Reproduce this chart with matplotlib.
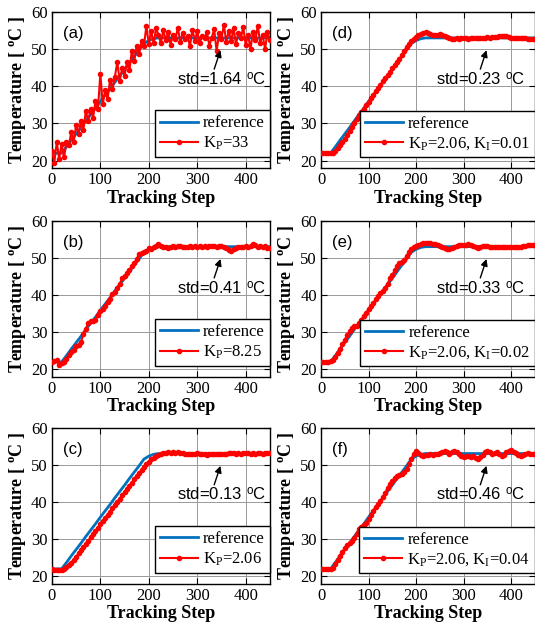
import numpy as np
import matplotlib.pyplot as plt

plt.rcParams['font.family'] = ['Liberation Serif', 'DejaVu Serif']
plt.rcParams['mathtext.fontset'] = 'custom'
plt.rcParams['mathtext.rm'] = 'Liberation Serif'
plt.rcParams['mathtext.it'] = 'Liberation Serif:italic'
plt.rcParams['mathtext.bf'] = 'Liberation Serif:bold'
plt.rcParams['mathtext.sf'] = 'Liberation Sans'

# ---------------- data (every 10 / 5 steps) ----------------
ref_temp = [22.0, 22.0, 22.0, 23.7, 25.5, 27.2, 28.9, 30.7, 32.4, 34.1,
            35.9, 37.6, 39.3, 41.1, 42.8, 44.5, 46.3, 48.0, 49.7, 51.5,
            52.3, 52.8, 53.0, 53.0, 53.0, 53.0, 53.0, 53.0, 53.0, 53.0,
            53.0, 53.0, 53.0, 53.0, 53.0, 53.0, 53.0, 53.0, 53.0, 53.0,
            53.0, 53.0, 53.0, 53.0, 53.0, 53.0]

temp_a = [22.5, 19.5, 25.0, 20.5, 24.5, 20.9, 24.9, 24.1, 27.7, 25.0,
          29.7, 27.1, 30.7, 28.3, 33.3, 30.7, 33.9, 31.5, 36.1, 33.8,
          43.4, 35.2, 38.9, 36.6, 41.7, 39.3, 42.6, 46.5, 41.4, 44.8,
          42.8, 46.4, 44.3, 49.5, 46.8, 50.9, 48.6, 52.2, 50.8, 56.3,
          51.3, 54.8, 51.5, 55.6,
          53.8, 51.6, 55.1, 52.4, 54.6, 51.2, 53.9, 52.8, 55.7, 51.9,
          54.3, 52.6, 53.4, 50.8, 55.2, 52.3, 54.8, 51.5, 53.6, 52.9,
          54.5, 50.9, 53.1, 55.3, 49.4, 54.2, 52.7, 56.6, 51.8, 54.9,
          52.2, 55.6, 51.3, 54.4, 52.9, 55.9, 51.1, 53.8, 50.1, 54.6,
          52.5, 56.2, 51.7, 53.9, 49.9, 54.7, 52.4]

temp_b = [22.0, 22.3, 22.6, 21.3, 21.6, 22.1, 22.9, 23.9, 24.6, 25.3,
          26.4, 26.6, 27.3, 29.6, 31.0, 32.4, 33.1, 33.0, 33.4, 34.5,
          35.7, 36.2, 37.1, 38.0, 39.0, 40.3, 40.8, 41.9, 43.0, 44.5,
          45.0, 45.8, 46.8, 47.7, 48.6, 49.7, 51.0, 51.2, 51.6, 51.8,
          52.6, 52.3, 52.9, 53.3, 53.8, 53.1, 52.8, 53.0, 52.7, 52.9,
          53.2, 52.8, 53.1, 53.3, 52.9, 52.8, 53.0, 53.1, 52.9, 53.2,
          53.0, 53.1, 52.9, 53.2, 53.0, 53.3, 53.1, 53.2, 53.0, 53.3,
          53.1, 52.9, 52.6, 52.0, 51.8, 52.3, 52.7, 52.9, 53.0, 52.8,
          53.1, 53.0, 53.2, 53.6, 53.4, 53.0, 53.2, 52.9, 53.1, 52.7,
          52.6]

temp_c = [22.0, 21.8, 21.7, 21.6, 21.7, 21.9, 22.4, 23.0, 23.7, 24.5,
          25.3, 26.2, 27.0, 27.9, 28.8, 29.6, 30.5, 31.4, 32.2, 33.1,
          34.0, 34.8, 35.7, 36.6, 37.4, 38.3, 39.2, 40.0, 40.9, 41.8,
          42.6, 43.5, 44.4, 45.2, 46.1, 47.0, 47.8, 48.6, 49.4, 50.1,
          50.8, 51.4, 51.9, 52.3, 52.7, 53.0, 53.1, 53.2, 53.3, 53.2,
          53.3, 53.2, 53.3, 53.2, 53.1, 53.0, 52.9, 53.0, 52.9, 53.0,
          53.1, 53.0, 52.9, 52.8, 52.7, 52.8, 52.9, 53.0, 52.9, 53.0,
          52.8, 52.9, 53.0, 53.1, 53.2, 53.1, 53.0, 53.1, 53.0, 53.1,
          53.2, 53.1, 53.0, 53.1, 53.0, 53.2, 53.1, 53.0, 53.2, 53.1,
          53.1]

temp_d = [22.0, 22.1, 22.0, 22.1, 22.0, 22.2, 22.5, 23.3, 24.1, 25.0,
          25.9, 26.9, 27.9, 29.0, 30.2, 31.3, 32.4, 33.2, 34.0, 35.0,
          35.9, 36.8, 37.7, 38.6, 39.5, 40.4, 41.3, 42.1, 43.0, 43.9,
          44.8, 45.6, 46.5, 47.4, 48.4, 49.5, 50.5, 51.4, 52.2, 52.8,
          53.3, 53.7, 54.1, 54.4, 54.5, 54.3, 54.0, 53.9, 53.8, 53.9,
          54.0, 53.8, 53.5, 53.2, 52.9, 52.8, 52.8, 52.9, 52.8, 52.9,
          53.0, 52.9, 52.8, 52.9, 53.0, 52.9, 53.0, 53.1, 53.0, 53.1,
          53.2, 53.1, 53.2, 53.3, 53.3, 53.4, 53.5, 53.5, 53.4, 53.2,
          53.1, 53.0, 52.9, 53.0, 52.9, 53.0, 52.9, 52.8, 52.7, 52.6,
          52.6]

temp_e = [22.0, 22.0, 22.1, 22.0, 22.2, 22.6, 23.4, 24.5, 25.6, 26.8,
          28.0, 29.2, 30.3, 31.2, 31.6, 31.8, 32.5, 33.4, 34.3, 35.3,
          36.2, 37.0, 37.9, 38.8, 39.7, 40.5, 41.2, 42.0, 43.0, 44.5,
          45.5, 46.6, 47.7, 48.5, 49.0, 49.4, 50.5, 51.5, 52.3, 52.8,
          53.1, 53.4, 53.7, 53.9, 54.0, 54.1, 54.0, 53.8, 53.6, 53.4,
          53.2, 52.9, 52.6, 52.4, 52.3, 52.6, 52.9, 53.2, 53.4, 53.5,
          53.5, 53.4, 53.6, 53.5, 53.3, 52.9, 52.7, 52.9, 53.1, 53.3,
          53.2, 53.0, 52.9, 52.8, 52.9, 52.9, 53.0, 52.9, 53.0, 53.0,
          52.9, 53.0, 52.9, 52.9, 53.0, 53.1, 53.2, 53.4, 53.5, 53.4,
          53.4]

temp_f = [22.0, 22.0, 21.9, 22.0, 21.9, 22.3, 23.2, 24.3, 25.4, 26.6,
          27.5, 28.3, 29.0, 29.6, 30.4, 31.5, 32.8, 33.3, 33.7, 34.4,
          35.3, 36.4, 37.5, 38.6, 39.5, 40.3, 41.2, 42.4, 43.8, 44.9,
          45.7, 46.4, 46.9, 47.3, 47.6, 48.1, 48.9, 50.2, 51.6, 52.9,
          53.7, 53.2, 52.6, 52.4, 52.7, 52.6, 52.8, 52.7, 52.9, 53.0,
          53.2, 53.4, 53.6, 53.3, 53.0, 53.4, 53.7, 53.4, 52.9, 52.3,
          52.2, 52.4, 52.3, 52.1, 52.4, 51.8, 51.6, 52.0, 52.7, 53.3,
          53.8, 53.4, 53.0, 53.2, 53.4, 52.9, 52.3, 52.7, 53.3, 53.6,
          53.9, 53.5, 53.1, 52.7, 52.3, 52.6, 52.9, 53.1, 53.0, 52.8,
          52.8]

panel_tags = ['(a)', '(b)', '(c)', '(d)', '(e)', '(f)']
legend_labels = ['K$_{\\mathrm{P}}$=33', 'K$_{\\mathrm{P}}$=8.25', 'K$_{\\mathrm{P}}$=2.06',
                 'K$_{\\mathrm{P}}$=2.06, K$_{\\mathrm{I}}$=0.01',
                 'K$_{\\mathrm{P}}$=2.06, K$_{\\mathrm{I}}$=0.02',
                 'K$_{\\mathrm{P}}$=2.06, K$_{\\mathrm{I}}$=0.04']
std_values = [1.64, 0.41, 0.13, 0.23, 0.33, 0.46]
series = [temp_a, temp_b, temp_c, temp_d, temp_e, temp_f]

# ---------------- plot ----------------
fig = plt.figure(figsize=(5.35, 6.25), dpi=100)

lefts = [0.097, 0.097, 0.097, 0.600, 0.600, 0.600]
bottoms = [0.731, 0.397, 0.066, 0.731, 0.397, 0.066]
w_left, w_right, h = 0.4075, 0.400, 0.25

for i in range(6):
    w = w_left if i < 3 else w_right
    ax = fig.add_axes([lefts[i], bottoms[i], w, h])
    y = series[i]
    x = np.linspace(0, 450, len(y))
    xr = np.linspace(0, 450, len(ref_temp))
    ax.plot(xr, ref_temp, color='#0072BD', lw=2, label='reference', zorder=2)
    ax.plot(x, y, color='red', lw=1.5, marker='.', ms=6, label=legend_labels[i], zorder=3)

    ax.set_xlim(0, 450)
    ax.set_ylim(18, 60)
    ax.set_xticks([0, 100, 200, 300, 400])
    ax.set_yticks([20, 30, 40, 50, 60])
    ax.grid(True, color='0.6', lw=0.7)
    ax.set_axisbelow(True)
    ax.tick_params(direction='in', top=True, right=True, labelsize=12, length=4, pad=3)
    for s in ax.spines.values():
        s.set_linewidth(1.0)

    ax.set_xlabel('Tracking Step', fontsize=13, fontweight='bold', labelpad=1)
    ax.set_ylabel('Temperature [ $^{\\mathbf{o}}$C ]', fontsize=13, fontweight='bold', labelpad=2)

    ax.text(0.05, 0.86, panel_tags[i], transform=ax.transAxes, fontsize=12,
            family='Liberation Sans', va='center', ha='left')

    tx = 258 if i < 3 else 242
    ax.text(tx, 41.8, 'std=%.2f $^{\\mathsf{o}}$C' % std_values[i], fontsize=12,
            family='Liberation Sans', va='center', ha='left')
    ax.annotate('', xy=(348, 49.7), xytext=(335, 44.6),
                arrowprops=dict(arrowstyle='-|>', color='k', lw=1, mutation_scale=10,
                                shrinkA=0, shrinkB=0))

    leg = ax.legend(loc='lower right', bbox_to_anchor=(1.0, 0.07), borderaxespad=0,
                    fontsize=12, numpoints=1, handlelength=2.3, handletextpad=0.3,
                    fancybox=False, framealpha=1, edgecolor='black',
                    borderpad=0.3, labelspacing=0.2)
    leg.get_frame().set_linewidth(1.0)

fig.savefig('out.png', dpi=100)
